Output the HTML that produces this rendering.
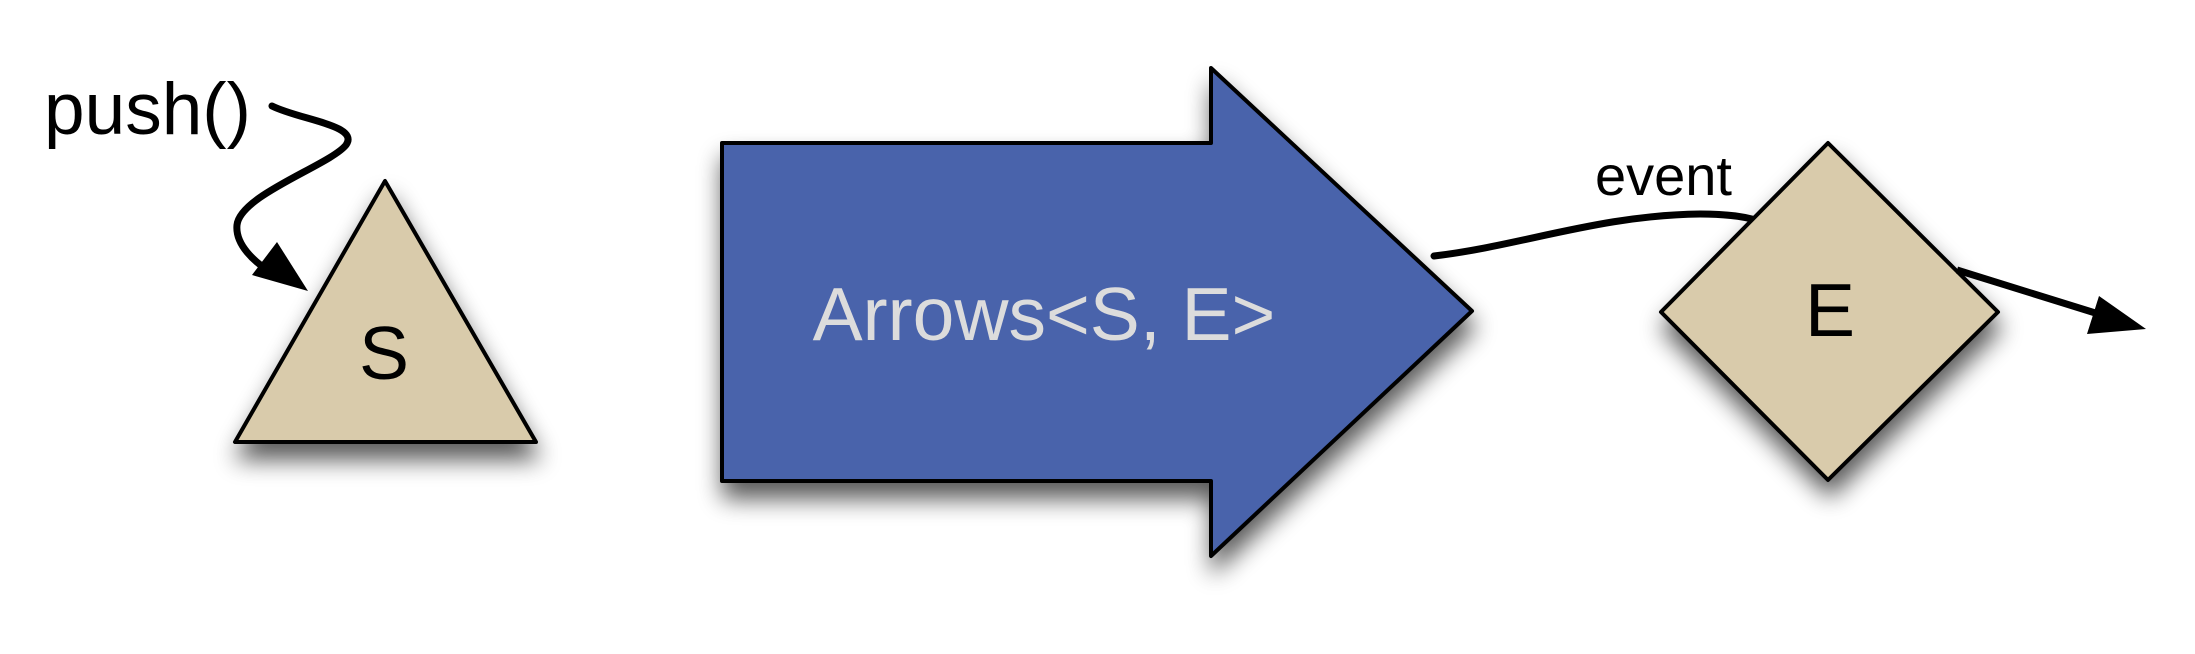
<!DOCTYPE html>
<html><head><style>html,body{margin:0;padding:0;background:#fff;}svg{display:block}</style></head>
<body>
<svg width="2195" height="654" viewBox="0 0 2195 654" xmlns="http://www.w3.org/2000/svg">
<defs>
<filter id="sh" x="-25%" y="-25%" width="150%" height="160%">
<feGaussianBlur in="SourceAlpha" stdDeviation="12"/>
<feOffset dx="2" dy="16" result="b"/>
<feComponentTransfer><feFuncA type="linear" slope="0.65"/></feComponentTransfer>
<feMerge><feMergeNode/><feMergeNode in="SourceGraphic"/></feMerge>
</filter>
</defs>
<g font-family="Liberation Sans, Arial, sans-serif">
<text x="44" y="134" font-size="73">push()</text>
<path d="M272,106 C300,120 360,125 346,145 C330,165 240,195 237,225 C235,245 255,262 270,272" fill="none" stroke="#000" stroke-width="7" stroke-linecap="round"/>
<polygon points="308,291 277,242 252,275" fill="#000"/>

<polygon points="385,181 235,442 536,442" fill="#D9CBAB" stroke="#000" stroke-width="4" stroke-linejoin="round" filter="url(#sh)"/>
<text x="384" y="379" font-size="75" text-anchor="middle">S</text>

<polygon points="722,143 1211,143 1211,68 1472,311 1211,556 1211,481 722,481" fill="#4863AB" stroke="#000" stroke-width="4" stroke-linejoin="round" filter="url(#sh)"/>
<text x="1044" y="340" font-size="75" text-anchor="middle" fill="#DCDCDC">Arrows&lt;S, E&gt;</text>

<path d="M1434,256 C1520,246 1600,215 1700,214 C1730,214 1745,217 1756,220" fill="none" stroke="#000" stroke-width="7" stroke-linecap="round"/>
<text x="1595" y="195" font-size="56">event</text>
<polygon points="1828,143 1661,312 1828,480 1998,312" fill="#D9CBAB" stroke="#000" stroke-width="4" stroke-linejoin="round" filter="url(#sh)"/>
<text x="1830" y="336" font-size="75" text-anchor="middle">E</text>
<path d="M1957,270 L2105,316" fill="none" stroke="#000" stroke-width="7"/>
<polygon points="2146,329 2099,296 2087,334" fill="#000"/>
</g>
</svg>
</body></html>
